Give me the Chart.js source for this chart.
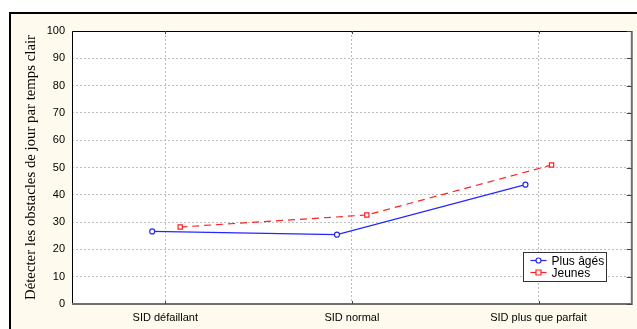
<!DOCTYPE html>
<html>
<head>
<meta charset="utf-8">
<script src="https://cdn.jsdelivr.net/npm/chart.js@4/dist/chart.umd.min.js"></script>
<style>
  html, body { margin: 0; padding: 0; background: #fff; }
  #wrap { width: 637px; height: 329px; }
</style>
</head>
<body>
<div id="wrap"><canvas id="myChart" width="637" height="329"></canvas></div>
<script>
// categories and series
let categories = ['SID défaillant', 'SID normal', 'SID plus que parfait'];
let seriesNames = ['Plus âgés', 'Jeunes'];
let olderX = [-0.07, 0.92, 1.93];
let older = [26.6, 25.4, 43.7];
let youngX = [0.08, 1.08, 2.07];
let young = [28.2, 32.6, 50.9];
let yTicks = [0, 10, 20, 30, 40, 50, 60, 70, 80, 90, 100];

let pts = (xs, ys) => xs.map((x, i) => ({x: x, y: ys[i]}));

// frame, plot border, inner ticks and the boxed legend
let decor = {
    id: 'decor',
    beforeDraw(chart) {
        let c = chart.ctx;
        c.save();
        c.fillStyle = '#fff';
        c.fillRect(0, 0, chart.width, chart.height);
        c.fillStyle = '#fffaee';
        c.fillRect(10, 13, chart.width - 10, chart.height - 13);
        c.fillStyle = '#000';
        c.fillRect(9, 12, chart.width - 9, 2);
        c.fillRect(9, 12, 2, chart.height - 12);
        let a = chart.chartArea;
        c.fillStyle = '#fff';
        c.fillRect(a.left, a.top, a.right - a.left, a.bottom - a.top);
        c.restore();
    },
    afterDraw(chart) {
        let c = chart.ctx, a = chart.chartArea;
        let xs = chart.scales.x, ys = chart.scales.y;
        c.save();
        // plot border
        c.strokeStyle = '#000';
        c.lineWidth = 1;
        c.beginPath();
        c.moveTo(a.left + 0.5, a.bottom);
        c.lineTo(a.left + 0.5, a.top + 0.5);
        c.lineTo(a.right, a.top + 0.5);
        c.stroke();
        c.strokeStyle = '#707070';
        c.lineWidth = 2;
        c.beginPath();
        c.moveTo(a.right, a.top);
        c.lineTo(a.right, a.bottom);
        c.lineTo(a.left, a.bottom);
        c.stroke();
        // inner ticks
        c.strokeStyle = '#444';
        c.lineWidth = 1;
        c.beginPath();
        yTicks.forEach(v => {
            let y = Math.round(ys.getPixelForValue(v)) + 0.5;
            c.moveTo(a.right - 5, y); c.lineTo(a.right, y);
        });
        categories.forEach((_, i) => {
            let x = Math.round(xs.getPixelForValue(i)) + 0.5;
            c.moveTo(x, a.top); c.lineTo(x, a.top + 3);
            c.moveTo(x, a.bottom - 3); c.lineTo(x, a.bottom);
        });
        c.stroke();
        // legend box
        let bx = 523.5, by = 252.5, bw = 83, bh = 29;
        c.fillStyle = '#fff';
        c.fillRect(bx, by, bw, bh);
        c.strokeStyle = '#333';
        c.strokeRect(bx, by, bw, bh);
        c.font = '12px "Liberation Sans", Arial, sans-serif';
        c.textBaseline = 'middle';
        chart.data.datasets.forEach((ds, i) => {
            let ly = by + 8 + i * 12;
            c.strokeStyle = ds.borderColor;
            c.lineWidth = 1.2;
            c.setLineDash([]);
            c.beginPath();
            c.moveTo(bx + 7, ly); c.lineTo(bx + 23, ly);
            c.stroke();
            c.fillStyle = '#fff';
            c.beginPath();
            if (ds.pointStyle === 'rect') {
                c.rect(bx + 12.5, ly - 2.5, 5, 5);
            } else {
                c.arc(bx + 15, ly, 2.5, 0, Math.PI * 2);
            }
            c.fill(); c.stroke();
            c.fillStyle = '#000';
            c.fillText(ds.label, bx + 28, ly + 1);
        });
        c.restore();
    }
};

let ctx = document.getElementById('myChart').getContext('2d');
let chart = new Chart(ctx, {
    type: 'line',
    data: {
        datasets: [{
            label: seriesNames[0],
            data: pts(olderX, older),
            borderColor: '#2626ff',
            backgroundColor: '#fff',
            borderWidth: 1.2,
            pointStyle: 'circle',
            pointRadius: 2.5,
            pointBorderWidth: 1.2
        }, {
            label: seriesNames[1],
            data: pts(youngX, young),
            borderColor: '#ff2020',
            backgroundColor: '#fff',
            borderWidth: 1.2,
            borderDash: [7, 5],
            pointStyle: 'rect',
            pointRadius: 3,
            pointBorderWidth: 1.2
        }]
    },
    options: {
        responsive: false,
        animation: false,
        layout: { padding: { top: 31, right: 4, left: 0, bottom: 0 } },
        plugins: { legend: { display: false }, tooltip: { enabled: false } },
        scales: {
            x: {
                type: 'linear',
                min: -0.5,
                max: 2.5,
                afterFit(s) { s.height = 25; },
                afterBuildTicks(s) { s.ticks = categories.map((_, i) => ({value: i})); },
                ticks: {
                    color: '#000',
                    font: { family: '"Liberation Sans", Arial, sans-serif', size: 11 },
                    padding: 7,
                    maxRotation: 0,
                    callback: v => categories[v]
                },
                grid: { color: '#bdbdbd', tickLength: 0, drawTicks: false },
                border: { display: false, dash: [2, 2] }
            },
            y: {
                min: 0,
                max: 100,
                afterFit(s) { s.width = 72; },
                afterBuildTicks(s) { s.ticks = yTicks.map(v => ({value: v})); },
                ticks: {
                    color: '#000',
                    font: { family: '"Liberation Sans", Arial, sans-serif', size: 11 },
                    padding: 7
                },
                grid: { color: '#bdbdbd', drawTicks: false },
                border: { display: false, dash: [2, 2] },
                title: {
                    display: true,
                    text: 'Détecter les obstacles de jour par temps clair',
                    color: '#000',
                    font: { family: '"Liberation Serif", "Times New Roman", serif', size: 14.8 },
                    padding: { top: 22, bottom: 0 }
                }
            }
        }
    },
    plugins: [decor]
});
</script>
</body>
</html>
